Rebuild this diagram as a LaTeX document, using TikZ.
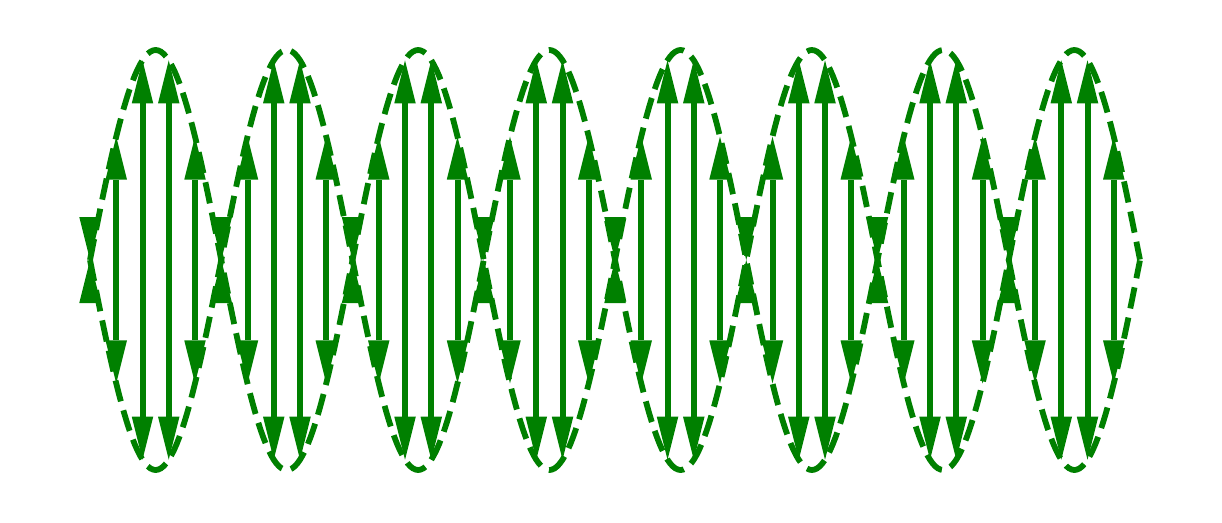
\documentclass[tikz,border=0pt]{standalone}
\definecolor{mplgreen}{RGB}{0,128,0}
\begin{document}
\begin{tikzpicture}[x=1pt,y=-1pt]
\tikzset{
  curve/.style={draw=mplgreen, line width=5.8pt, dash pattern=on 21.5pt off 9.3pt},
  arrowfill/.style={fill=mplgreen}
}
\useasboundingbox (0,0) rectangle (1222,522);
% arrows
\foreach \k in {0,...,39}{
  \pgfmathsetmacro\xx{90+26.25*\k}
  \pgfmathtruncatemacro\m{mod(\k,5)}
  \ifnum\m=0
    \fill[arrowfill] (\xx,260) -- (\xx-10.75,217) -- (\xx+10.75,217) -- cycle;
    \fill[arrowfill] (\xx,260) -- (\xx-10.75,303) -- (\xx+10.75,303) -- cycle;
  \else
    \pgfmathsetmacro\h{210*sin(36*\k)}
    \foreach \s in {1,-1}{
      \pgfmathsetmacro\t{\s*\h}
      \pgfmathsetmacro\yt{260-\t}
      \pgfmathsetmacro\yb{\yt+43*\t/abs(\t)}
      \fill[arrowfill] (\xx-3,260) rectangle (\xx+3,\yb);
      \fill[arrowfill] (\xx,\yt) -- (\xx-10.75,\yb) -- (\xx+10.75,\yb) -- cycle;
    }
  \fi
}
% dashed curves
\draw[curve] plot[domain=0:40, samples=401] ({90+26.25*\x},{260-210*sin(36*\x)});
\draw[curve] plot[domain=0:40, samples=401] ({90+26.25*\x},{260+210*sin(36*\x)});
\end{tikzpicture}
\end{document}
